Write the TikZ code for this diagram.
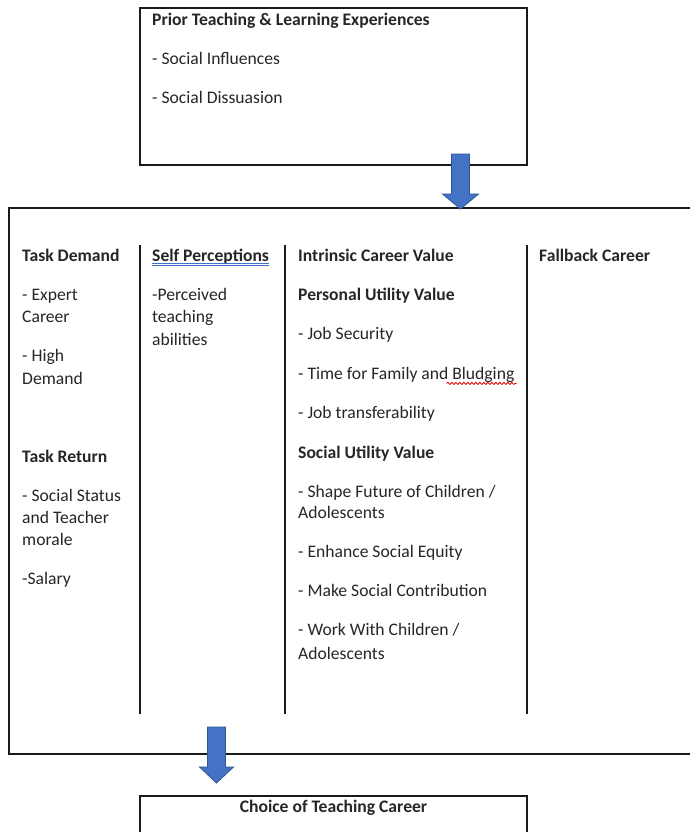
\documentclass[tikz,border=0pt]{standalone}
\usepackage{fontspec}
\setmainfont{Carlito}
\usetikzlibrary{calc,decorations.pathmorphing}
\definecolor{arrowblue}{HTML}{4472C4}
\definecolor{arrowedge}{HTML}{2F5597}
\definecolor{lineink}{HTML}{1A1A1A}
\definecolor{grammarblue}{HTML}{3F6FD0}
\begin{document}
\begin{tikzpicture}[x=1pt,y=-1pt,
  txt/.style={anchor=west, inner sep=0pt, yshift=-2pt, font=\fontsize{17.6}{21}\selectfont, text height=0.64em, text depth=0em, text=black!85},
  hd/.style={txt, font=\fontsize{17.6}{21}\selectfont\bfseries},
  frame/.style={draw=lineink, line width=1.6pt},
  blockarrow/.style={fill=arrowblue, draw=arrowedge, line width=0.8pt, line join=miter}]
\useasboundingbox[fill=white] (0,0) rectangle (689,832);

% top box
\node[frame, rectangle, inner sep=0pt, minimum width=387pt, minimum height=157pt] (prior) at (333.5,86.5) {};
\node[hd] (p1) at (152,20) {Prior Teaching \& Learning Experiences};
\node[txt] (p2) at (152,59) {- Social Influences};
\node[txt] (p3) at (152,98) {- Social Dissuasion};

% big box (open on the right)
\coordinate (bbtl) at (9,208);
\coordinate (bbbl) at (9,754);
\draw[frame] (700,208) -- (bbtl) -- (bbbl) -- (700,754);

% column separators
\coordinate (s1t) at (140,245); \coordinate (s1b) at (140,714);
\coordinate (s2t) at (285,245); \coordinate (s2b) at (285,714);
\coordinate (s3t) at (527,245); \coordinate (s3b) at (527,714);
\draw[frame] (s1t) -- (s1b);
\draw[frame] (s2t) -- (s2b);
\draw[frame] (s3t) -- (s3b);

% column 1
\node[hd]  (c1a) at (22,256) {Task Demand};
\node[txt] (c1b) at (22,295) {- Expert};
\node[txt] (c1c) at (22,317) {Career};
\node[txt] (c1d) at (22,356) {- High};
\node[txt] (c1e) at (22,379) {Demand};
\node[hd]  (c1f) at (22,457) {Task Return};
\node[txt] (c1g) at (22,496) {- Social Status};
\node[txt] (c1h) at (22,518) {and Teacher};
\node[txt] (c1i) at (22,540) {morale};
\node[txt] (c1j) at (22,579) {-Salary};

% column 2
\node[hd]  (c2a) at (152,256) {Self Perceptions};
\node[txt] (c2b) at (152,295) {-Perceived};
\node[txt] (c2c) at (152,317) {teaching};
\node[txt] (c2d) at (152,340) {abilities};
\draw[grammarblue, line width=0.9pt] ([yshift=-2pt]c2a.south west) -- ([yshift=-2pt]c2a.south east);
\draw[grammarblue, line width=0.9pt] ([yshift=-4.5pt]c2a.south west) -- ([yshift=-4.5pt]c2a.south east);

% column 3
\node[hd]  (c3a) at (298,256) {Intrinsic Career Value};
\node[hd]  (c3b) at (298,295) {Personal Utility Value};
\node[txt] (c3c) at (298,334) {- Job Security};
\node[txt] (c3d) at (298,374) {- Time for Family and Bludging};
\node[txt] (c3e) at (298,413) {- Job transferability};
\node[hd]  (c3f) at (298,453) {Social Utility Value};
\node[txt] (c3g) at (298,492) {- Shape Future of Children /};
\node[txt] (c3h) at (298,513) {Adolescents};
\node[txt] (c3i) at (298,552) {- Enhance Social Equity};
\node[txt] (c3j) at (298,591) {- Make Social Contribution};
\node[txt] (c3k) at (298,630) {- Work With Children /};
\node[txt] (c3l) at (298,654) {Adolescents};
\draw[red!85!black, line width=0.8pt, decorate, decoration={snake, amplitude=1.1pt, segment length=4pt}]
  ($(c3d.south east)+(-68,4)$) -- ($(c3d.south east)+(2,4)$);

% column 4
\node[hd] (c4a) at (539,256) {Fallback Career};

% bottom box (open at the bottom)
\coordinate (cbl) at (140,840);
\coordinate (cbr) at (527,840);
\draw[frame] (cbl) -- (140,796) -- (527,796) -- (cbr);
\node[hd, anchor=center] (choice) at (333.5,807) {Choice of Teaching Career};

% block arrows
\coordinate (a1s) at (460.5,154);
\coordinate (a1t) at (460.5,209);
\draw[blockarrow] ($(a1s)+(-9,0)$) -- ($(a1s)+(9,0)$) -- ($(a1t)+(9,-15)$) -- ($(a1t)+(18,-15)$)
  -- (a1t) -- ($(a1t)+(-18,-15)$) -- ($(a1t)+(-9,-15)$) -- cycle;
\coordinate (a2s) at (216.5,727);
\coordinate (a2t) at (216.5,783);
\draw[blockarrow] ($(a2s)+(-9,0)$) -- ($(a2s)+(9,0)$) -- ($(a2t)+(9,-16)$) -- ($(a2t)+(17,-16)$)
  -- (a2t) -- ($(a2t)+(-17,-16)$) -- ($(a2t)+(-9,-16)$) -- cycle;
\end{tikzpicture}
\end{document}
